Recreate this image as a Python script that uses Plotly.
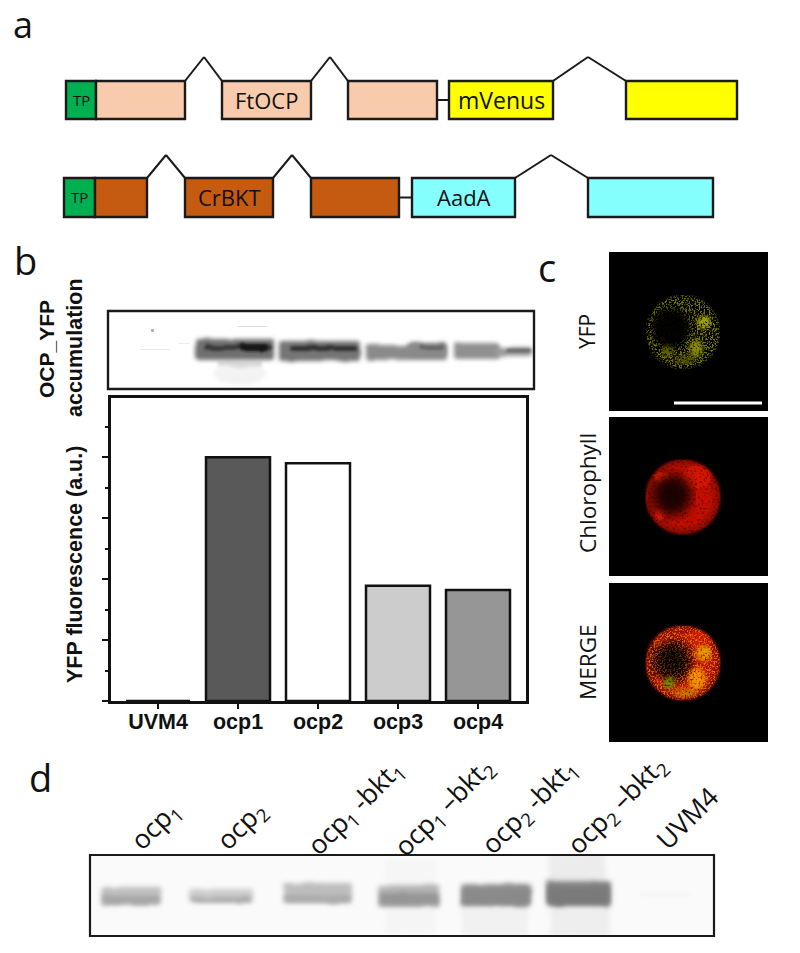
import base64
import plotly.graph_objects as go

W, H = 800, 953

# ---------- bar data ----------
strains = ["UVM4", "ocp1", "ocp2", "ocp3", "ocp4"]
yfp_fluorescence = [0.0, 4.0, 3.9, 1.89, 1.82]
bar_colors = ["#FFFFFF", "#595959", "#FFFFFF", "#CCCCCC", "#969696"]
major_ticks = [0, 1, 2, 3, 4]
minor_ticks = [0.5, 1.5, 2.5, 3.5, 4.5]

# ---------- gene constructs: left, right, colour, label ----------
row1_boxes = [(66, 96, "#00B050", "TP"), (96, 185, "#F8CBAD", ""), (222, 311, "#F8CBAD", "FtOCP"),
              (348, 437, "#F8CBAD", ""), (449, 553, "#FFFF00", "mVenus"), (626, 737, "#FFFF00", "")]
row2_boxes = [(64, 95, "#00B050", "TP"), (95, 147, "#C55A11", ""), (185, 273, "#C55A11", "CrBKT"),
              (311, 399, "#C55A11", ""), (412, 515, "#86FFFF", "AadA"), (588, 713, "#86FFFF", "")]
row1_introns = [(185, 204, 222), (311, 330, 348), (553, 588, 626)]
row2_introns = [(147, 166, 185), (273, 292, 311), (515, 551, 588)]

# ---------- gel bands: x0, x1, y0, y1, colour ----------
blot_b_bands = [(196, 274, 339, 360, "#707070"), (279, 360, 341, 361, "#747474"),
                (365, 447, 345, 360, "#8A8A8A"), (408, 446, 343, 356, "#8A8A8A"),
                (454, 500, 343, 359, "#909090"), (495, 532, 347, 356, "#989898")]
blot_b_cores = [(205, 272, 345, 350, "#383838"), (240, 268, 344, 351, "#181818"), (290, 357, 346, 351, "#303030"),
                (420, 444, 346, 350, "#646464"), (505, 531, 349, 352, "#606060")]
gel_d_bands = [(101, 161, 887, 906, "#BEBEBE"), (189, 254, 889, 903, "#CCCCCC"),
               (283, 352, 883, 903, "#BDBDBD"), (378, 440, 885, 907, "#B4B4B4"),
               (461, 531, 884, 906, "#939393"), (547, 611, 881, 906, "#858585")]
gel_d_cores = [(103, 159, 896, 904, "#A6A6A6"), (191, 252, 897, 902, "#ACACAC"),
               (285, 350, 895, 902, "#ACACAC"), (380, 438, 893, 905, "#969696"),
               (463, 529, 889, 904, "#8A8A8A"), (549, 609, 887, 904, "#7A7A7A")]


def px(x):
    return x / W


def py(y):
    return 1 - y / H


def svg_uri(w, h, body):
    s = (f'<svg xmlns="http://www.w3.org/2000/svg" width="{w}" height="{h}" viewBox="0 0 {w} {h}">{body}</svg>')
    return "data:image/svg+xml;base64," + base64.b64encode(s.encode()).decode()


def rough(i, sd, scale):
    return (f'<filter id="{i}" x="-30%" y="-80%" width="160%" height="260%">'
            f'<feTurbulence type="fractalNoise" baseFrequency="0.05" numOctaves="2" seed="5" result="n"/>'
            f'<feDisplacementMap in="SourceGraphic" in2="n" scale="{scale}" xChannelSelector="R" yChannelSelector="G" result="d"/>'
            f'<feGaussianBlur in="d" stdDeviation="{sd}"/></filter>')


def gel_svg(x0, y0, x1, y1, bands, cores, bg, sd, scale, extra=""):
    w, h = x1 - x0, y1 - y0
    body = f'<defs>{rough("b", sd, scale)}{rough("c", sd * 0.9, scale)}</defs><rect width="{w}" height="{h}" fill="{bg}"/>'
    body += f'<g transform="translate({-x0},{-y0})">{extra}'
    for a, b, c, d, col in bands:
        body += f'<rect x="{a}" y="{c}" width="{b-a}" height="{d-c}" rx="3" fill="{col}" filter="url(#b)"/>'
    for a, b, c, d, col in cores:
        body += f'<rect x="{a}" y="{c}" width="{b-a}" height="{d-c}" rx="2" fill="{col}" filter="url(#c)"/>'
    return svg_uri(w, h, body + "</g>")


def speckle(i, seed, k, c, freq=0.45, sd=1.0):
    return (f'<filter id="{i}" x="0" y="0" width="100%" height="100%" color-interpolation-filters="sRGB">'
            f'<feGaussianBlur stdDeviation="{sd}" result="g"/>'
            f'<feTurbulence type="fractalNoise" baseFrequency="{freq}" numOctaves="2" seed="{seed}" result="n"/>'
            f'<feColorMatrix in="n" type="matrix" values="0 0 0 0 0 0 0 0 0 0 0 0 0 0 0 {k} 0 0 0 {c}" result="a"/>'
            f'<feComposite in="g" in2="a" operator="in"/></filter>')


SOFT = ('<filter id="s1" x="0" y="0" width="100%" height="100%"><feGaussianBlur stdDeviation="0.7"/></filter>'
        '<filter id="s3"><feGaussianBlur stdDeviation="3"/></filter>'
        '<filter id="s6"><feGaussianBlur stdDeviation="6"/></filter>'
        '<radialGradient id="rg"><stop offset="0.72" stop-color="#C41000"/><stop offset="1" stop-color="#7A0800"/></radialGradient>')
BG = '<rect width="159" height="159" fill="#000"/>'
BLOB = speckle("blob", 11, 4, -1.1, 0.5, 2.2)


def chl_layer():
    return ('<g filter="url(#s1)"><g filter="url(#chl)">'
            '<circle cx="74" cy="80" r="38" fill="url(#rg)"/>'
            '<ellipse cx="53" cy="60" rx="8" ry="5" fill="#F01C00"/>'
            '<ellipse cx="51" cy="98" rx="5" ry="5" fill="#F01C00"/>'
            '<ellipse cx="88" cy="60" rx="14" ry="12" fill="#D41400"/>'
            '</g></g>'
            '<ellipse cx="63" cy="78" rx="20" ry="21" fill="#000" opacity="0.85" filter="url(#s6)"/>')


def yfp_layer():
    return ('<g filter="url(#s1)"><g filter="url(#yfp)">'
            '<circle cx="74" cy="80" r="37" fill="#787800"/>'
            '</g></g>'
            '<ellipse cx="62" cy="76" rx="19" ry="20" fill="#000" opacity="0.95" filter="url(#s3)"/>'
            '<g filter="url(#blob)"><circle cx="95" cy="70" r="7" fill="#A8A800"/>'
            '<ellipse cx="87" cy="96" rx="7" ry="9" fill="#8C8C00"/>'
            '<circle cx="58" cy="100" r="6" fill="#606000"/>'
            '<ellipse cx="76" cy="108" rx="11" ry="5" fill="#505000"/></g>')


yfp_svg = svg_uri(159, 159, f'<defs>{SOFT}{BLOB}{speckle("yfp", 4, 7, -3.4, 0.6, 0.8)}</defs>{BG}{yfp_layer()}')
chl_svg = svg_uri(159, 159, f'<defs>{SOFT}{speckle("chl", 7, 1.8, 0.15)}</defs>{BG}{chl_layer()}')
merge_svg = svg_uri(159, 159, (f'<defs>{SOFT}{BLOB}{speckle("chl", 7, 1.8, 0.2)}{speckle("mrg", 9, 6, -2.9, 0.6)}</defs>'
                               f'{BG}{chl_layer()}'
                               '<g filter="url(#s1)"><g filter="url(#mrg)"><circle cx="74" cy="80" r="37" fill="#D87000"/></g></g>'
                               '<ellipse cx="63" cy="78" rx="17" ry="18" fill="#000" opacity="0.7" filter="url(#s6)"/>'
                               '<g filter="url(#blob)"><circle cx="95" cy="70" r="8" fill="#E0A000"/>'
                               '<ellipse cx="88" cy="96" rx="9" ry="11" fill="#F09800"/>'
                               '<circle cx="60" cy="100" r="6" fill="#6E8A00"/>'
                               '<ellipse cx="76" cy="110" rx="11" ry="5" fill="#C87800"/></g>'))

smear_b = ('<ellipse cx="240" cy="374" rx="26" ry="11" fill="#F3F3F3" filter="url(#b)"/>'
           '<rect x="218" y="361" width="44" height="6" fill="#DCDCDC" filter="url(#c)"/>'
           '<rect x="151" y="329" width="3" height="3" rx="1" fill="#ABABAB"/>'
           '<rect x="238" y="326" width="29" height="1" fill="#DDDDDD"/>'
           '<rect x="140" y="349" width="30" height="1" fill="#E8E8E8"/>'
           '<rect x="178" y="343" width="12" height="1" fill="#EEEEEE"/>')
smear_d = ('<rect x="549" y="852" width="56" height="30" fill="#ECECEC" filter="url(#b)"/>'
           '<rect x="385" y="860" width="50" height="25" fill="#F6F6F6" filter="url(#b)"/>'
           '<rect x="462" y="906" width="66" height="30" fill="#F1F1F1" filter="url(#b)"/>'
           '<rect x="550" y="906" width="60" height="30" fill="#EEEEEE" filter="url(#b)"/>'
           '<rect x="385" y="906" width="50" height="28" fill="#F5F5F5" filter="url(#b)"/>'
           '<rect x="640" y="893" width="50" height="3" fill="#F3F3F3" filter="url(#c)"/>')

images = []


def add_image(src, x0, y0, x1, y1):
    images.append(dict(source=src, xref="paper", yref="paper", x=px(x0), y=py(y0), sizex=(x1 - x0) / W,
                       sizey=(y1 - y0) / H, xanchor="left", yanchor="top", sizing="stretch", layer="below"))


add_image(gel_svg(108, 311, 534, 389, blot_b_bands, blot_b_cores, "#FFFFFF", 2.0, 4, smear_b), 108, 311, 534, 389)
add_image(gel_svg(90, 855, 714, 936, gel_d_bands, gel_d_cores, "#FAFAFA", 2.5, 3, smear_d), 90, 855, 714, 936)
add_image(yfp_svg, 609, 252, 768, 411)
add_image(chl_svg, 609, 417, 768, 576)
add_image(merge_svg, 609, 583, 768, 742)

shapes, ann = [], []


def rect(x0, y0, x1, y1, fill=None, lw=2, color="#1A1A1A"):
    shapes.append(dict(type="rect", xref="paper", yref="paper", x0=px(x0), x1=px(x1), y0=py(y0), y1=py(y1),
                       fillcolor=fill if fill else "rgba(0,0,0,0)", line=dict(color=color, width=lw)))


def line(x0, y0, x1, y1, lw=2, color="#1A1A1A"):
    shapes.append(dict(type="line", xref="paper", yref="paper", x0=px(x0), x1=px(x1), y0=py(y0), y1=py(y1),
                       line=dict(color=color, width=lw)))


def text(t, x, y, size, font="Open Sans", angle=0, color="#111111"):
    ann.append(dict(text=t, x=px(x), y=py(y), xref="paper", yref="paper", showarrow=False, textangle=angle,
                    font=dict(size=size, family=font, color=color), xanchor="center", yanchor="middle"))


def construct(boxes, introns, top, bottom, peak, link):
    for a, mid, b in introns:
        line(a, top, mid, peak)
        line(mid, peak, b, top)
    line(link[0], (top + bottom) / 2, link[1], (top + bottom) / 2)
    for a, b, col, lab in boxes:
        rect(a, top, b, bottom, col, 2.4)
        if lab:
            size = 15 if lab == "TP" else (23 if lab == "mVenus" else 22)
            text(lab, (a + b) / 2, (top + bottom) / 2, size)


construct(row1_boxes, row1_introns, 81, 119, 57, (437, 449))
construct(row2_boxes, row2_introns, 178, 217, 155, (399, 412))

rect(108, 311, 534, 389, None, 2.4)
rect(90, 855, 714, 936, None, 2.2)
line(674, 403, 762, 403, 3.2, "#FFFFFF")

text("a", 23, 25, 36)
text("b", 25, 260, 38)
text("c", 547, 267, 38)
text("d", 40, 777, 38)

BOLD = "Liberation Sans"
text("<b>OCP_YFP</b>", 46, 349, 21, BOLD, -90)
text("<b>accumulation</b>", 75, 348, 21.5, BOLD, -90)
text("<b>YFP fluorescence (a.u.)</b>", 75, 565, 21.5, BOLD, -90)

text("YFP", 587, 332, 21, angle=-90)
text("Chlorophyll", 587, 493, 22.5, angle=-90)
text("MERGE", 587, 662, 22.5, angle=-90)

GEL_LABEL = 26.5
text("ocp<sub>1</sub>", 155, 826, GEL_LABEL, angle=-45)
text("ocp<sub>2</sub>", 241, 826, GEL_LABEL, angle=-45)
text("ocp<sub>1</sub> -bkt<sub>1</sub>", 355, 808, GEL_LABEL, angle=-45)
text("ocp<sub>1</sub> –bkt<sub>2</sub>", 444, 807, GEL_LABEL, angle=-45)
text("ocp<sub>2</sub> -bkt<sub>1</sub>", 529, 807, GEL_LABEL, angle=-45)
text("ocp<sub>2</sub> –bkt<sub>2</sub>", 617, 805, GEL_LABEL, angle=-45)
text("UVM4", 687, 818, GEL_LABEL, angle=-45)

fig = go.Figure(go.Bar(x=strains, y=yfp_fluorescence, marker=dict(color=bar_colors, line=dict(color="#111111", width=2.5)),
                       width=0.8, showlegend=False))

fig.update_layout(
    width=W, height=H, autosize=False, margin=dict(l=0, r=0, t=0, b=0),
    paper_bgcolor="#FFFFFF", plot_bgcolor="rgba(0,0,0,0)",
    shapes=shapes, annotations=ann, images=images,
    font=dict(family=BOLD, color="#111111"),
    xaxis=dict(domain=[px(111), px(526)], range=[-0.5875, 4.6], type="category", categoryorder="array",
               categoryarray=strains, showline=True, linecolor="#111111", linewidth=2.5, mirror=True,
               ticks="outside", ticklen=5, tickwidth=2, tickcolor="#111111", showgrid=False, zeroline=False,
               ticklabelstandoff=-6,
               tickfont=dict(size=21.5, family=BOLD, color="#111111", weight="bold")),
    yaxis=dict(domain=[py(701), py(398)], range=[0, 4.97], tickmode="array", tickvals=major_ticks, showline=True,
               linecolor="#111111", linewidth=2.5, mirror=True, ticks="outside", ticklen=6, tickwidth=1.5,
               tickcolor="#111111", showticklabels=False, showgrid=False, zeroline=False,
               minor=dict(tickmode="array", tickvals=minor_ticks, ticks="outside", ticklen=3, tickwidth=1.5,
                          tickcolor="#111111", showgrid=False)),
)

fig.write_html("out.html", config=dict(displayModeBar=False),
               post_script="document.body.style.margin='0';document.body.style.overflow='hidden';")
